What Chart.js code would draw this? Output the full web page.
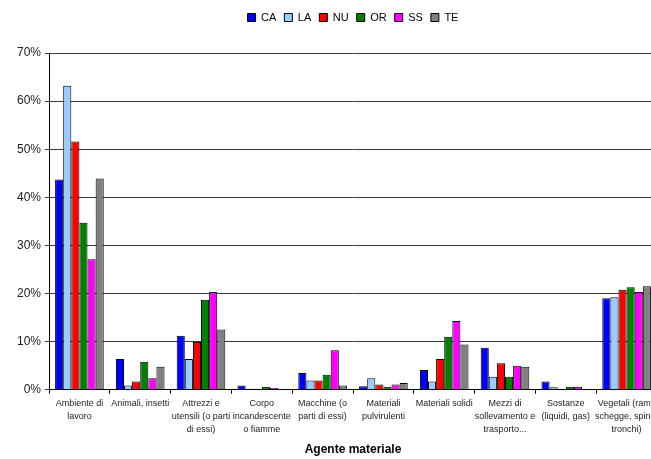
<!DOCTYPE html>
<html lang="it">
<head>
    <meta charset="UTF-8">
    <title>Agente materiale</title>
    <style>
        html, body {
            margin: 0;
            padding: 0;
            background: #ffffff;
            overflow: hidden;
        }
        #wrap {
            width: 708px;
            height: 459px;
        }
    </style>
    <script src="https://cdn.jsdelivr.net/npm/chart.js"></script>
</head>
<body>
    <div id="wrap">
        <canvas id="chart" width="708" height="459"></canvas>
    </div>
    <script>
        const categorie = [
            ['Ambiente di', 'lavoro'],
            ['Animali, insetti'],
            ['Attrezzi e', 'utensili (o parti', 'di essi)'],
            ['Corpo', 'incandescente', 'o fiamme'],
            ['Macchine (o', 'parti di essi)'],
            ['Materiali', 'pulvirulenti'],
            ['Materiali solidi'],
            ['Mezzi di', 'sollevamento e', 'trasporto...'],
            ['Sostanze', '(liquidi, gas)'],
            ['Vegetali (rami,', 'schegge, spine,', 'tronchi)']
        ];

        // valori in percentuale
        const CA = [43.7, 6.4, 11.2, 0.9, 3.5, 0.7, 4.1, 8.7, 1.7, 19.0];
        const LA = [63.2, 0.9, 6.4, 0.2, 1.9, 2.4, 1.7, 2.7, 0.5, 19.2];
        const NU = [51.6, 1.7, 9.9, 0.2, 1.9, 1.1, 6.4, 5.5, 0.2, 20.8];
        const OR = [34.7, 5.8, 18.7, 0.6, 3.1, 0.6, 11.0, 2.7, 0.6, 21.3];
        const SS = [27.1, 2.4, 20.3, 0.4, 8.2, 1.1, 14.3, 5.0, 0.6, 20.3];
        const TE = [43.9, 4.8, 12.5, 0, 0.9, 1.4, 9.4, 4.8, 0, 21.5];

        const yTicks = [0, 10, 20, 30, 40, 50, 60, 70];

        const serie = [
            { label: 'CA', data: CA, color: '#0000ff' },
            { label: 'LA', data: LA, color: '#99ccff' },
            { label: 'NU', data: NU, color: '#ff0000' },
            { label: 'OR', data: OR, color: '#008000' },
            { label: 'SS', data: SS, color: '#ff00ff' },
            { label: 'TE', data: TE, color: '#808080' }
        ];

        // spazio sotto la legenda e legenda centrata sull'area del grafico
        const legendaPlugin = {
            id: 'legendaPlugin',
            beforeInit(chart) {
                const fit = chart.legend.fit;
                chart.legend.fit = function () {
                    fit.bind(chart.legend)();
                    this.height += 20;
                };
            },
            afterLayout(chart) {
                chart.legend.left = chart.chartArea.left;
                chart.legend.right = chart.chartArea.right;
            }
        };

        const config = {
            type: 'bar',
            data: {
                labels: categorie,
                datasets: serie.map(s => ({
                    label: s.label,
                    data: s.data,
                    backgroundColor: s.color,
                    borderColor: '#000000',
                    borderWidth: 1,
                    categoryPercentage: 0.8,
                    barPercentage: 1.0
                }))
            },
            options: {
                responsive: false,
                animation: false,
                layout: {
                    padding: { left: 13, right: 51, top: 4, bottom: 2 }
                },
                plugins: {
                    legend: {
                        position: 'top',
                        labels: {
                            boxWidth: 8,
                            boxHeight: 8,
                            padding: 8,
                            color: '#000000',
                            font: { family: 'Arial, Liberation Sans', size: 11 }
                        }
                    },
                    tooltip: { enabled: false }
                },
                scales: {
                    x: {
                        grid: {
                            drawOnChartArea: false,
                            drawTicks: true,
                            tickLength: 4,
                            color: '#000000',
                            offset: true
                        },
                        border: { color: '#000000' },
                        ticks: {
                            autoSkip: false,
                            maxRotation: 0,
                            minRotation: 0,
                            color: '#222222',
                            padding: 3,
                            font: { family: 'Arial, Liberation Sans', size: 9, lineHeight: 1.44 }
                        },
                        title: {
                            display: true,
                            text: 'Agente materiale',
                            color: '#000000',
                            padding: { top: 4, bottom: 0 },
                            font: { family: 'Arial, Liberation Sans', size: 12, weight: 'bold' }
                        }
                    },
                    y: {
                        min: 0,
                        max: 70,
                        afterBuildTicks: axis => {
                            axis.ticks = yTicks.map(v => ({ value: v }));
                        },
                        grid: {
                            color: '#3a3a3a',
                            tickLength: 4
                        },
                        border: { color: '#000000' },
                        ticks: {
                            color: '#222222',
                            padding: 4,
                            font: { family: 'Arial, Liberation Sans', size: 12 },
                            callback: v => v + '%'
                        }
                    }
                }
            },
            plugins: [legendaPlugin]
        };

        new Chart(document.getElementById('chart'), config);
    </script>
</body>
</html>
